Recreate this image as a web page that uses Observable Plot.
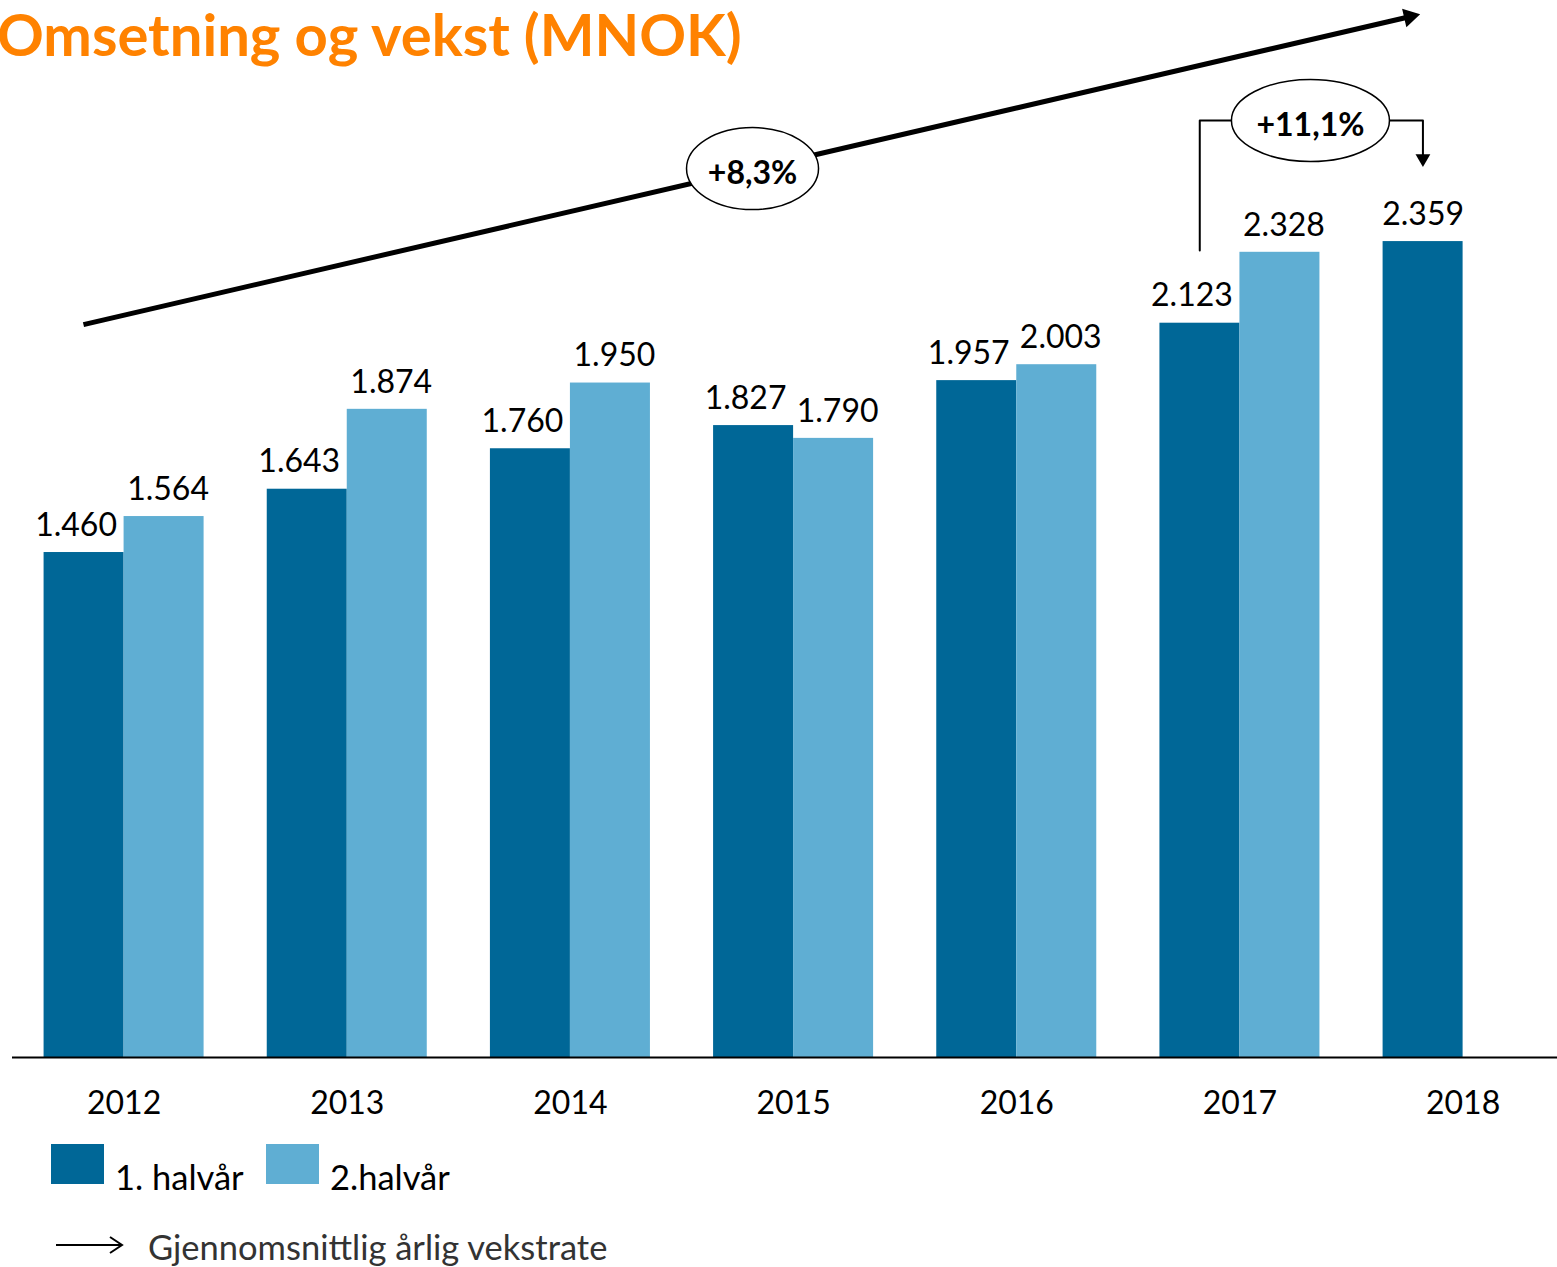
<!DOCTYPE html>
<html>
<head>
<meta charset="utf-8">
<script src="https://cdn.jsdelivr.net/npm/d3@7"></script>
<script src="https://cdn.jsdelivr.net/npm/@observablehq/plot@0.6"></script>
<style>
  html, body { margin: 0; padding: 0; background: #fff; }
  body { width: 1557px; height: 1267px; position: relative; overflow: hidden; font-family: Lato, "Open Sans", sans-serif; }
  #title { position: absolute; left: -3px; top: -1px; font-size: 58px; font-weight: 700; color: #FF8200; line-height: 70px; white-space: nowrap; z-index: 2; }
  #chart { position: absolute; left: 0; top: 0; }
  .leg { position: absolute; font-size: 34.5px; color: #000; white-space: nowrap; line-height: 1; }
  .sw { position: absolute; width: 53px; height: 40px; }
</style>
</head>
<body>
<div id="title">Omsetning og vekst (MNOK)</div>
<div id="chart"></div>
<div class="sw" style="left:51px; top:1144px; background:#006797;"></div>
<div class="leg" style="left:115px; top:1160px;">1. halvår</div>
<div class="sw" style="left:266px; top:1144px; background:#5FAED3;"></div>
<div class="leg" style="left:330px; top:1160px;">2.halvår</div>
<svg style="position:absolute; left:50px; top:1232px;" width="80" height="26">
  <line x1="6" y1="13" x2="72" y2="13" stroke="#000" stroke-width="2"/>
  <polyline points="60,5 72,13 60,21" fill="none" stroke="#000" stroke-width="2"/>
</svg>
<div class="leg" style="left:148px; top:1230px; color:#333;">Gjennomsnittlig årlig vekstrate</div>
<script>
// ---- data ----
const years = [2012, 2013, 2014, 2015, 2016, 2017, 2018];
const firstHalf = [1460, 1643, 1760, 1827, 1957, 2123, 2359];
const secondHalf = [1564, 1874, 1950, 1790, 2003, 2328, null];
const formatNo = v => d3.format(",")(v).replace(/,/g, ".");

// annotations (in data units: x = year position, y = MNOK)
const trend = [{x1: 2011.818, y1: 2119, x2: 2017.76, y2: 3009}];
const trendLabel = [{x: 2014.816, y: 2570, text: "+8,3%"}];
const growthLabel = [{x: 2017.316, y: 2709, text: "+11,1%"}];
const bracketLeft = [{x: 2016.82, y: 2333}, {x: 2016.82, y: 2709}, {x: 2016.96, y: 2709}];
const bracketRight = [{x: 2017.67, y: 2709}, {x: 2017.82, y: 2709}, {x: 2017.82, y: 2600}];
const bracketHead = [{x: 2017.82, y: 2599}];

const rows1 = years.map((year, i) => ({year, value: firstHalf[i]}));
const rows2 = years.map((year, i) => ({year, value: secondHalf[i]})).filter(d => d.value != null);

const W = 0.3585; // bar width in year units
const DARK = "#006797", LIGHT = "#5FAED3";

function ellipseSymbol(rx, ry) {
  const k = 0.5523;
  return {
    draw(ctx) {
      ctx.moveTo(rx, 0);
      ctx.bezierCurveTo(rx, k * ry, k * rx, ry, 0, ry);
      ctx.bezierCurveTo(-k * rx, ry, -rx, k * ry, -rx, 0);
      ctx.bezierCurveTo(-rx, -k * ry, -k * rx, -ry, 0, -ry);
      ctx.bezierCurveTo(k * rx, -ry, rx, -k * ry, rx, 0);
      ctx.closePath();
    }
  };
}

const plot = Plot.plot({
  width: 1557,
  height: 1135,
  marginLeft: 12,
  marginRight: 0,
  marginTop: 0,
  marginBottom: 78,
  x: {domain: [2011.5, 2018.423], axis: null},
  y: {domain: [0, 3056], axis: null},
  style: {fontFamily: "Lato, 'Open Sans', sans-serif", fontSize: "32px", color: "#000", background: "transparent", overflow: "visible"},
  marks: [
    Plot.rectY(rows1, {x1: d => d.year - W, x2: d => d.year, y1: 0, y2: "value", fill: DARK}),
    Plot.rectY(rows2, {x1: d => d.year, x2: d => d.year + W, y1: 0, y2: "value", fill: LIGHT}),
    Plot.ruleY([0], {stroke: "#000", strokeWidth: 2}),
    Plot.text(rows1.filter(d => d.year !== 2018), {x: d => d.year - W / 2, y: "value", text: d => formatNo(d.value), dy: -27, dx: -8, fill: "#000"}),
    Plot.text(rows1.filter(d => d.year === 2018), {x: d => d.year - W / 2, y: "value", text: d => formatNo(d.value), dy: -27, fill: "#000"}),
    Plot.text(rows2, {x: d => d.year + W / 2, y: "value", text: d => formatNo(d.value), dy: -27, dx: 4, fill: "#000"}),
    Plot.text(years, {x: d => d, y: 0, text: d => String(d), dy: 46, fill: "#000"}),
    // trend arrow
    Plot.link(trend, {x1: "x1", y1: "y1", x2: "x2", y2: "y2", stroke: "#000", strokeWidth: 5}),
    Plot.dot(trend, {x: "x2", y: "y2", symbol: "triangle", r: 7, rotate: 77, fill: "#000", stroke: "none"}),
    Plot.dot(trendLabel, {x: "x", y: "y", symbol: ellipseSymbol(66, 41), fill: "#fff", stroke: "#000", strokeWidth: 1.5}),
    Plot.text(trendLabel, {x: "x", y: "y", text: "text", dy: 5, fontWeight: "bold", fill: "#000"}),
    // bracket 2017 -> 2018
    Plot.line(bracketLeft, {x: "x", y: "y", stroke: "#000", strokeWidth: 2}),
    Plot.line(bracketRight, {x: "x", y: "y", stroke: "#000", strokeWidth: 2}),
    Plot.dot(bracketHead, {x: "x", y: "y", symbol: "triangle", r: 5.5, rotate: 180, fill: "#000", stroke: "none"}),
    Plot.dot(growthLabel, {x: "x", y: "y", symbol: ellipseSymbol(79, 41), fill: "#fff", stroke: "#000", strokeWidth: 1.5}),
    Plot.text(growthLabel, {x: "x", y: "y", text: "text", dy: 5, fontWeight: "bold", fill: "#000"})
  ]
});
document.getElementById("chart").appendChild(plot);
</script>
</body>
</html>
